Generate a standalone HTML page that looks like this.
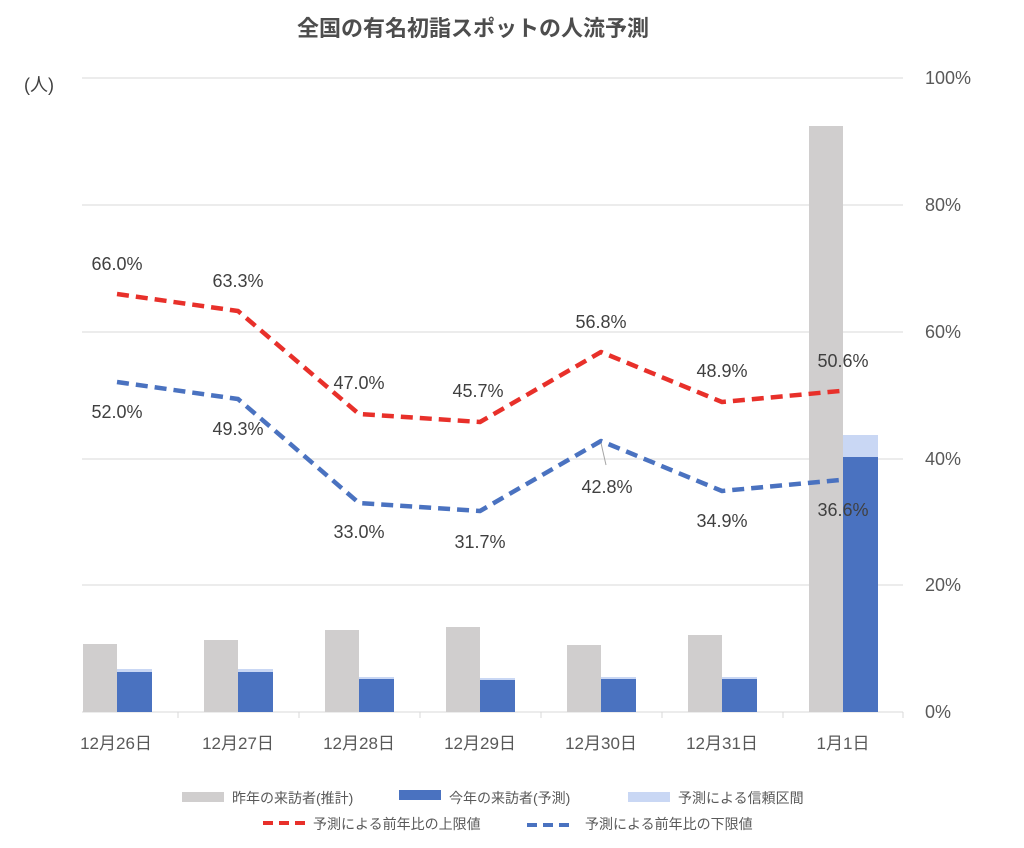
<!DOCTYPE html>
<html><head><meta charset="utf-8"><style>
body{margin:0;background:#fff;}
svg text{font-family:"Liberation Sans","Noto Sans CJK JP",sans-serif;}
</style></head><body>
<svg width="1024" height="843" viewBox="0 0 1024 843" xmlns="http://www.w3.org/2000/svg">
<rect width="1024" height="843" fill="#fff"/>
<text x="473" y="36" font-size="22" font-weight="bold" fill="#4d4d4d" text-anchor="middle">全国の有名初詣スポットの人流予測</text>
<text x="24" y="91" font-size="18" fill="#404040">(人)</text>
<g stroke="#d9d9d9" stroke-width="1">
<line x1="82" y1="78" x2="903" y2="78"/><line x1="82" y1="205" x2="903" y2="205"/>
<line x1="82" y1="332" x2="903" y2="332"/><line x1="82" y1="459" x2="903" y2="459"/>
<line x1="82" y1="585" x2="903" y2="585"/><line x1="82" y1="712" x2="903" y2="712"/>
<line x1="178" y1="712" x2="178" y2="718"/><line x1="299" y1="712" x2="299" y2="718"/>
<line x1="420" y1="712" x2="420" y2="718"/><line x1="541" y1="712" x2="541" y2="718"/>
<line x1="662" y1="712" x2="662" y2="718"/><line x1="783" y1="712" x2="783" y2="718"/>
<line x1="903" y1="712" x2="903" y2="718"/>
</g>
<g font-size="18" fill="#595959">
<text x="925" y="84">100%</text><text x="925" y="211">80%</text><text x="925" y="338">60%</text>
<text x="925" y="465">40%</text><text x="925" y="591">20%</text><text x="925" y="718">0%</text>
</g>
<g fill="#d0cece">
<rect x="83" y="644" width="34" height="68"/><rect x="204" y="640" width="34" height="72"/>
<rect x="325" y="630" width="34" height="82"/><rect x="446" y="627" width="34" height="85"/>
<rect x="567" y="645" width="34" height="67"/><rect x="688" y="635" width="34" height="77"/>
<rect x="809" y="126" width="34" height="586"/>
</g>
<g fill="#c9d7f4">
<rect x="117" y="669" width="35" height="43"/><rect x="238" y="669" width="35" height="43"/>
<rect x="359" y="677" width="35" height="35"/><rect x="480" y="678" width="35" height="34"/>
<rect x="601" y="677" width="35" height="35"/><rect x="722" y="677" width="35" height="35"/>
<rect x="843" y="435" width="35" height="277"/>
</g>
<g fill="#4a72c0">
<rect x="117" y="672" width="35" height="40"/><rect x="238" y="672" width="35" height="40"/>
<rect x="359" y="679" width="35" height="33"/><rect x="480" y="680" width="35" height="32"/>
<rect x="601" y="679" width="35" height="33"/><rect x="722" y="679" width="35" height="33"/>
<rect x="843" y="457" width="35" height="255"/>
</g>
<polyline points="117,294 238,311 359,414 480,422 601,352 722,402 840,391" fill="none" stroke="#e8302a" stroke-width="4.5" stroke-dasharray="12,7" stroke-linejoin="round"/>
<polyline points="117,382 238,399 359,503 480,511 601,441 722,491 840,480" fill="none" stroke="#4a72c0" stroke-width="4.5" stroke-dasharray="12,7" stroke-linejoin="round"/>
<line x1="601" y1="443" x2="606" y2="465" stroke="#a6a6a6" stroke-width="1"/>
<g font-size="18" fill="#404040" text-anchor="middle">
<text x="117" y="270">66.0%</text><text x="238" y="287">63.3%</text><text x="359" y="389">47.0%</text>
<text x="478" y="397">45.7%</text><text x="601" y="328">56.8%</text><text x="722" y="377">48.9%</text>
<text x="843" y="367">50.6%</text>
<text x="117" y="418">52.0%</text><text x="238" y="435">49.3%</text><text x="359" y="538">33.0%</text>
<text x="480" y="548">31.7%</text><text x="607" y="493">42.8%</text><text x="722" y="527">34.9%</text>
<text x="843" y="516">36.6%</text>
</g>
<g font-size="17" fill="#595959" text-anchor="middle">
<text x="116" y="749">12月26日</text><text x="238" y="749">12月27日</text><text x="359" y="749">12月28日</text>
<text x="480" y="749">12月29日</text><text x="601" y="749">12月30日</text><text x="722" y="749">12月31日</text>
<text x="843" y="749">1月1日</text>
</g>
<g font-size="14" fill="#595959">
<rect x="182" y="792" width="42" height="10" fill="#d0cece"/><text x="232" y="803">昨年の来訪者(推計)</text>
<rect x="399" y="790" width="42" height="10" fill="#4a72c0"/><text x="449" y="803">今年の来訪者(予測)</text>
<rect x="628" y="792" width="42" height="10" fill="#c9d7f4"/><text x="678" y="803">予測による信頼区間</text>
<line x1="263" y1="823" x2="305" y2="823" stroke="#e8302a" stroke-width="4" stroke-dasharray="10,6"/><text x="313" y="829">予測による前年比の上限値</text>
<line x1="527" y1="825" x2="569" y2="825" stroke="#4a72c0" stroke-width="4" stroke-dasharray="10,6"/><text x="585" y="829">予測による前年比の下限値</text>
</g>
</svg>
</body></html>
